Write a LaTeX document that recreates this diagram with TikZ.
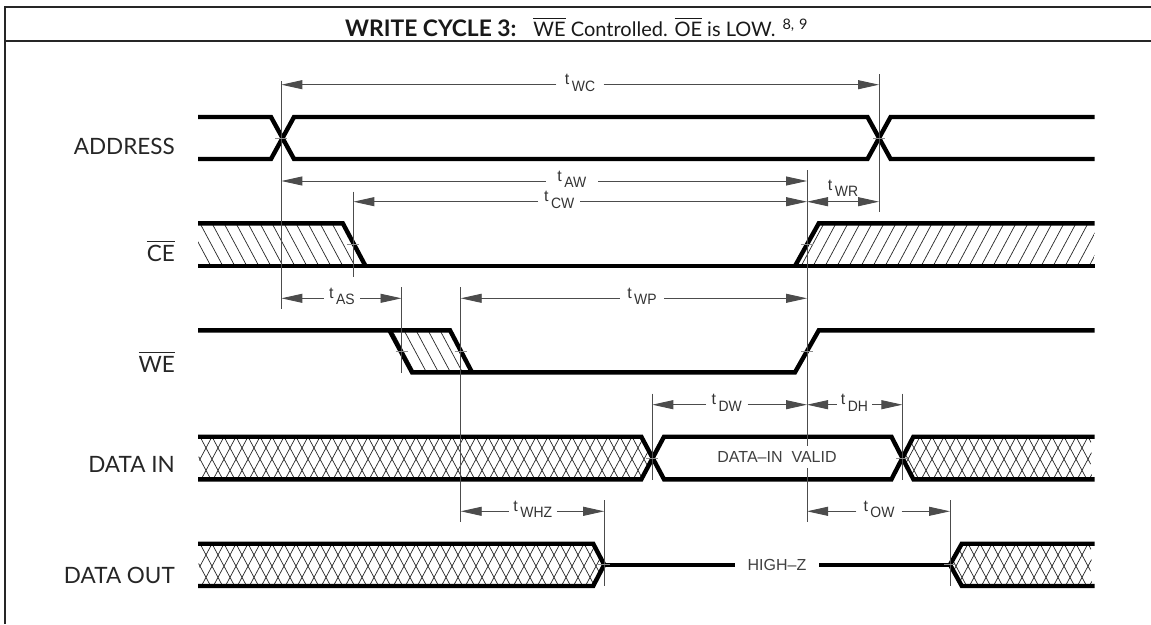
\documentclass[tikz,border=0pt]{standalone}
\usepackage{amsmath,amssymb}
\usepackage{fontspec}
\setmainfont{Lato}
\newfontfamily\dimfont{Liberation Sans}
\usetikzlibrary{arrows.meta, positioning, calc}
\newcommand{\ovl}[1]{$\overline{\mbox{#1}}$}
\newcommand{\tsub}[1]{{\fontsize{16}{16}\selectfont t}\hspace{2.5pt}\raisebox{-6.5pt}{\scalebox{0.93}[1]{#1}}}
\newcommand{\hatchdown}[1]{\foreach \x in {92,104,...,1112} {\draw[hatchline] (\x,#1) -- ++(23,43);}}
\newcommand{\hatchup}[1]{\foreach \x in {92,104,...,1112} {\draw[hatchline] (\x,#1) -- ++(-23,43);}}

\begin{document}
\begin{tikzpicture}[x=1pt, y=-1pt,
        wave/.style={line width=4.4pt, black, line join=miter},
        hatchline/.style={line width=0.7pt, black!85},
        refline/.style={line width=0.9pt, black!70},
        tickline/.style={line width=0.8pt, black!45},
        dimarrow/.style={line width=0.9pt, black!70, -{Triangle[length=21pt, width=9pt]}},
        dimboth/.style={line width=0.9pt, black!70, {Triangle[length=21pt, width=9pt]}-{Triangle[length=21pt, width=9pt]}},
        signame/.style={anchor=base east, inner sep=0pt, font=\fontsize{22.5}{22.5}\selectfont, text=black!85},
        dimlabel/.style={inner sep=0pt, minimum height=10pt, text height=0pt, text depth=0pt, font=\dimfont\fontsize{15}{15}\selectfont, text=black!80},
        statelabel/.style={fill=white, inner sep=0pt, font=\dimfont\fontsize{16}{16}\selectfont, text=black!75}]
    \useasboundingbox (0,0) rectangle (1151,624);

    \draw[line width=1.6pt, black!85] (5,624) -- (5,7) -- (1151,7);
    \draw[line width=1.6pt, black!85] (5,41) -- (1151,41);
    \node[inner sep=0pt, anchor=base west, font=\fontsize{20}{20}\selectfont, text=black!90] (title) at (345,36)
        {{\fontsize{22.8}{22.8}\selectfont\bfseries WRITE CYCLE 3:}\hspace{17pt}\ovl{WE} Controlled. \ovl{OE} is LOW.\hspace{7pt}\raisebox{7pt}{\fontsize{14.5}{14.5}\selectfont 8,\hspace{5pt}9}};

    \node[signame] (address) at (175,154.5) {ADDRESS};
    \node[signame] (ce) at (175,261) {\ovl{CE}};
    \node[signame] (we) at (175,372) {\ovl{WE}};
    \node[signame] (datain) at (175,472) {DATA IN};
    \node[signame] (dataout) at (175,583) {DATA OUT};

    % hatched regions
    \begin{scope}
        \clip (198,223.3) -- (342.8,223.3) -- (365.5,266) -- (198,266) -- cycle;
        \hatchdown{223.3}
    \end{scope}
    \begin{scope}
        \clip (818.8,223.3) -- (1094.5,223.3) -- (1094.5,266) -- (795,266) -- cycle;
        \hatchup{223.3}
    \end{scope}
    \begin{scope}
        \clip (389.4,330.3) -- (450,330.3) -- (472,372.3) -- (412,372.3) -- cycle;
        \hatchdown{330.3}
    \end{scope}
    \begin{scope}
        \clip (198,436.7) -- (641.3,436.7) -- (652.3,458) -- (641.3,479.3) -- (198,479.3) -- (204,468) -- (198,458) -- (204,447) -- cycle;
        \hatchdown{436.7}
        \hatchup{436.7}
    \end{scope}
    \begin{scope}
        \clip (913.4,436.7) -- (1094.5,436.7) -- (1088,447) -- (1094.5,458) -- (1088,468) -- (1094.5,479.3) -- (913.4,479.3) -- (902.4,458) -- cycle;
        \hatchdown{436.7}
        \hatchup{436.7}
    \end{scope}
    \begin{scope}
        \clip (198,543.7) -- (593.2,543.7) -- (604.2,564.7) -- (593.2,586) -- (198,586) -- (204,575) -- (198,564.7) -- (204,554) -- cycle;
        \hatchdown{543.7}
        \hatchup{543.7}
    \end{scope}
    \begin{scope}
        \clip (961.8,543.7) -- (1094.5,543.7) -- (1088,554) -- (1094.5,564.7) -- (1088,575) -- (1094.5,586) -- (961.8,586) -- (950,564.7) -- cycle;
        \hatchdown{543.7}
        \hatchup{543.7}
    \end{scope}

    % waveforms
    \draw[wave] (198,117) -- (271,117) -- (294,159) -- (867.5,159) -- (890.6,117) -- (1094.5,117);
    \draw[wave] (198,159) -- (271,159) -- (294,117) -- (867.5,117) -- (890.6,159) -- (1094.5,159);

    \draw[wave] (198,223.3) -- (342.8,223.3) -- (365.5,266);
    \draw[wave] (198,266) -- (1094.5,266);
    \draw[wave] (795,266) -- (818.8,223.3) -- (1094.5,223.3);

    \draw[wave] (198,330.3) -- (450,330.3) -- (472,372.3);
    \draw[wave] (389.4,330.3) -- (412,372.3) -- (795,372.3) -- (818.8,330.3) -- (1094.5,330.3);

    \draw[wave] (198,436.7) -- (641.3,436.7) -- (664,479.3) -- (891.4,479.3) -- (913.4,436.7) -- (1094.5,436.7);
    \draw[wave] (198,479.3) -- (641.3,479.3) -- (664,436.7) -- (891.4,436.7) -- (913.4,479.3) -- (1094.5,479.3);

    \draw[wave] (198,543.7) -- (593.2,543.7) -- (604.2,564.7) -- (593.2,586) -- (198,586);
    \draw[wave] (1094.5,543.7) -- (961.8,543.7) -- (950,564.7) -- (961.8,586) -- (1094.5,586);
    \draw[wave] (604.2,564.7) -- (950,564.7);

    % reference lines
    \foreach \r/\x/\ya/\yb in {a/281.4/81/309, b/879/74.3/212.3, c/353.4/191.7/276.7, d/807/170/522,
            e/401.5/287/373, f/460.7/287/522, g/652.3/393.7/479.7, h/902.4/393.7/479.7,
            i/604.2/500.3/586, j/950/500.3/586} {
        \coordinate (\r-top) at (\x,\ya);
        \coordinate (\r-bot) at (\x,\yb);
        \draw[refline] (\r-top) -- (\r-bot);
    }
    \foreach \x/\y in {281.4/138, 879/138, 353.4/244.6, 807/244.6, 401.5/351.3, 460.7/351.3,
            807/351.3, 652.3/458, 902.4/458, 604.2/564.7, 950/564.7} {
        \draw[tickline] (\x-6,\y) -- (\x+6,\y);
    }

    % dimension arrows with a label in the gap
    \foreach \n/\s/\ra/\rb/\y/\cx/\w in {twc/WC/a/b/84.7/580/47, taw/AW/a/d/181/571.8/52, tcw/CW/c/d/201.7/559.2/42,
            tas/AS/a/e/298.3/342/36, twp/WP/f/d/298.3/642/44, tdw/DW/g/d/404.7/726.8/41,
            tdh/DH/d/h/404.7/854.5/35, twhz/WHZ/f/i/511.3/532.8/47.6, tow/OW/d/j/511.3/879/45} {
        \node[dimlabel, minimum width=\w pt] (\n) at (\cx,\y) {\tsub{\s}};
        \coordinate (\n-l) at (\ra-top |- \n);
        \coordinate (\n-r) at (\rb-top |- \n);
        \draw[dimarrow] (\n) -- (\n-l);
        \draw[dimarrow] (\n) -- (\n-r);
    }
    \coordinate (twr-l) at (d-top |- 0,201.7);
    \coordinate (twr-r) at (b-top |- 0,201.7);
    \draw[dimboth] (twr-l) -- (twr-r);
    \node[dimlabel] (twr) at (843,190) {\tsub{WR}};

    \node[statelabel, minimum width=124pt, minimum height=22pt] (valid) at (777,457) {DATA\textendash IN\ \ VALID};
    \node[statelabel, minimum width=84pt, minimum height=12pt] (highz) at (777,564.7) {HIGH\textendash Z};
\end{tikzpicture}
\end{document}
